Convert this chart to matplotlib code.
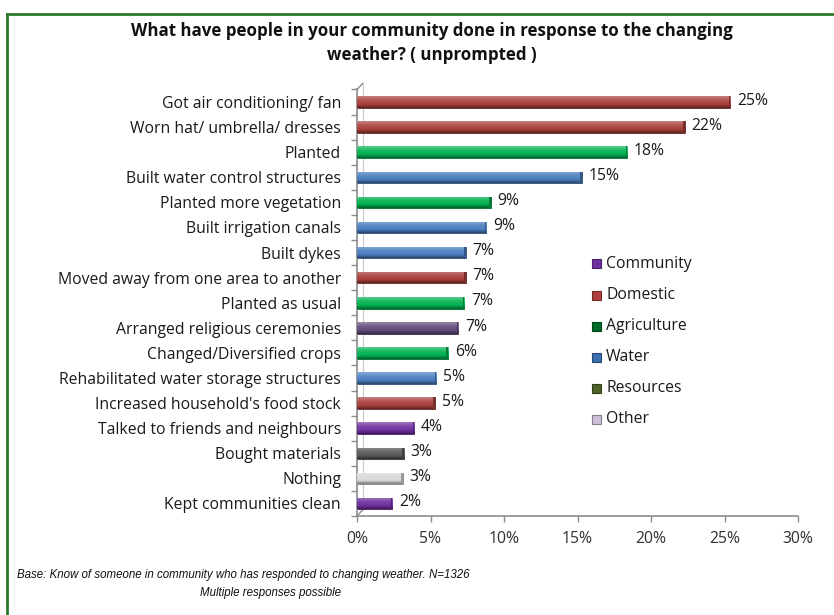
import numpy as np
import matplotlib
matplotlib.use("Agg")
import matplotlib.pyplot as plt
from matplotlib import font_manager
from matplotlib.lines import Line2D
from matplotlib.patches import Rectangle
from matplotlib.colors import LinearSegmentedColormap, to_rgb

# ---- data -------------------------------------------------------------
categories = [
    "Got air conditioning/ fan",
    "Worn hat/ umbrella/ dresses",
    "Planted",
    "Built water control structures",
    "Planted more vegetation",
    "Built irrigation canals",
    "Built dykes",
    "Moved away from one area to another",
    "Planted as usual",
    "Arranged religious ceremonies",
    "Changed/Diversified crops",
    "Rehabilitated water storage structures",
    "Increased household's food stock",
    "Talked to friends and neighbours",
    "Bought materials",
    "Nothing",
    "Kept communities clean",
]
values = [25.4, 22.3, 18.4, 15.3, 9.1, 8.8, 7.4, 7.4, 7.3, 6.9, 6.2, 5.4, 5.3,
          3.9, 3.2, 3.1, 2.4]
groups = ["Domestic", "Domestic", "Agriculture", "Water", "Agriculture", "Water",
          "Water", "Domestic", "Agriculture", "Religion", "Agriculture", "Water",
          "Domestic", "Community", "Materials", "Other", "Community"]
legend_labels = ["Community", "Domestic", "Agriculture", "Water", "Resources", "Other"]
x_ticks = [0, 5, 10, 15, 20, 25, 30]

title = ("What have people in your community done in response to the changing\n"
         "weather? ( unprompted )")
note1 = "Base: Know of someone in community who has responded to changing weather. N=1326"
note2 = "Multiple responses possible"

# ---- styles -----------------------------------------------------------
bar_colors = {
    "Domestic": "#A8403C",
    "Agriculture": "#00B050",
    "Water": "#4A7EBF",
    "Community": "#7030A0",
    "Religion": "#604A7B",
    "Materials": "#595959",
    "Other": "#D9D9D9",
}
legend_colors = {
    "Community": "#7030A0",
    "Domestic": "#B0403D",
    "Agriculture": "#006B2A",
    "Water": "#3A6EAD",
    "Resources": "#4F6228",
    "Other": "#CCC0DA",
}

installed = {f.name for f in font_manager.fontManager.ttflist}
label_font = ["Open Sans", "DejaVu Sans"]
note_font = "Liberation Sans Narrow" if "Liberation Sans Narrow" in installed else "Liberation Sans"
note_size = 10.5 if note_font == "Liberation Sans Narrow" else 8.3
plt.rcParams["font.family"] = label_font
FS = 11.3

W, H = 834, 615
fig = plt.figure(figsize=(W / 100, H / 100), dpi=100)
fig.patch.set_facecolor("white")

ax_left, ax_right, ax_top, ax_bot = 357, 798, 89.5, 516
ax = fig.add_axes([ax_left / W, (H - ax_bot) / H, (ax_right - ax_left) / W,
                   (ax_bot - ax_top) / H])

n = len(categories)
pos = np.arange(n)
bar_h = 0.46


def shade(c, f):
    r, g, b = to_rgb(c)
    if f >= 0:
        return (r + (1 - r) * f, g + (1 - g) * f, b + (1 - b) * f)
    return (r * (1 + f), g * (1 + f), b * (1 + f))


bars = ax.barh(pos, values, height=bar_h, left=0,
               color=[bar_colors[g] for g in groups], zorder=2)
grad = np.linspace(0, 1, 64).reshape(-1, 1)
for rect, g in zip(bars, groups):
    base = bar_colors[g]
    cmap = LinearSegmentedColormap.from_list(
        "cyl", [(0, shade(base, 0.35)), (0.35, shade(base, 0.1)),
                (0.7, base), (1, shade(base, -0.45))])
    x0, y0 = rect.get_x(), rect.get_y()
    w, h = rect.get_width(), rect.get_height()
    im = ax.imshow(grad, extent=(x0, x0 + w, y0 + h, y0), origin="upper",
                   aspect="auto", cmap=cmap, zorder=3, interpolation="bilinear")
    im.set_clip_path(rect)
    rect.set_edgecolor(shade(base, -0.4))
    rect.set_linewidth(0.6)
    # darker cap at the bar end
    ax.add_patch(Rectangle((x0 + w - 0.12, y0), 0.12, h, facecolor=shade(base, -0.3),
                           edgecolor="none", zorder=4))

for i, v in enumerate(values):
    ax.text(v + 0.45, i - 0.05, f"{v:.0f}%", va="center", ha="left",
            fontsize=FS, color="#1a1a1a", zorder=5)

ax.set_xlim(0, 30)
ax.set_ylim(n - 0.5, -0.5)
ax.set_xticks(x_ticks)
ax.set_xticklabels([f"{t}%" for t in x_ticks], fontsize=FS, color="#303030")
ax.set_yticks(pos)
ax.set_yticklabels(categories, fontsize=FS, color="#1a1a1a")
ax.set_yticks(np.arange(-0.5, n, 1.0), minor=True)
ax.tick_params(axis="y", which="major", length=0, pad=11.5)
ax.tick_params(axis="y", which="minor", length=4, color="#8c8c8c", width=1)
ax.tick_params(axis="x", which="major", length=4, color="#8c8c8c", width=1,
               pad=7)

for s in ["top", "right"]:
    ax.spines[s].set_visible(False)
for s in ["left", "bottom"]:
    ax.spines[s].set_color("#8c8c8c")
    ax.spines[s].set_linewidth(1.2)

# depth edges of the 3-D walls
ax.plot([0, 0.4], [-0.5, -0.75], color="#8c8c8c", lw=1, clip_on=False, zorder=1)
ax.plot([0, 0.4], [n - 0.5, n - 0.75], color="#8c8c8c", lw=1, clip_on=False, zorder=1)
ax.plot([0.4, 0.4], [-0.75, n - 0.75], color="#c8c8c8", lw=0.8, clip_on=False, zorder=1)

# title
fig.text(432 / W, 1 - 43 / H, title, ha="center", va="center", fontsize=12.2,
         fontweight="bold", color="#111111", linespacing=1.5)

# legend
leg_x, leg_y0, leg_dy = 596, 264, 31
for k, lab in enumerate(legend_labels):
    y = leg_y0 + k * leg_dy
    c = legend_colors[lab]
    fig.add_artist(Rectangle(((leg_x - 4.5) / W, 1 - (y + 4.5) / H), 9 / W, 9 / H,
                             transform=fig.transFigure, facecolor=c,
                             edgecolor=shade(c, -0.35), lw=0.8))
    fig.text((leg_x + 10) / W, 1 - y / H, lab, ha="left", va="center",
             fontsize=FS, color="#1a1a1a")

# notes
fig.text(17 / W, 1 - 575 / H, note1, ha="left", va="center", fontsize=note_size,
         style="italic", family=note_font, color="#111111")
fig.text(271 / W, 1 - 593 / H, note2, ha="center", va="center", fontsize=note_size,
         style="italic", family=note_font, color="#111111")

# frame lines
green = "#2A7A2A"
fig.add_artist(Line2D([7 / W, 7 / W], [0, 1 - 14 / H], transform=fig.transFigure,
                      color=green, lw=2))
fig.add_artist(Line2D([7 / W, 1], [1 - 14 / H, 1 - 14 / H], transform=fig.transFigure,
                      color=green, lw=2))

fig.savefig("out.png", dpi=100)
